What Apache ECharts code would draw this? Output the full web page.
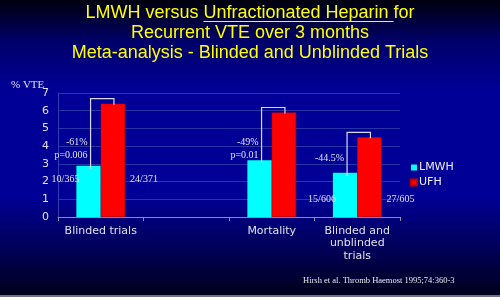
<!DOCTYPE html>
<html>
<head>
<meta charset="utf-8">
<script src="https://cdn.jsdelivr.net/npm/echarts@6/dist/echarts.min.js"></script>
<style>
  html, body { margin: 0; padding: 0; }
  #chart { width: 500px; height: 297px; }
</style>
</head>
<body>
<div id="chart"></div>
<script>
// categories (second slot is empty in the original slide)
const categories = ['Blinded trials', '', 'Mortality', 'Blinded and\nunblinded\ntrials'];
const lmwh = [2.9, null, 3.2, 2.5];
const ufh = [6.4, null, 5.9, 4.5];
const yTicks = [0, 1, 2, 3, 4, 5, 6, 7];

// annotations per category
const reductions = ['-61%', '', '-49%', '-44.5%'];
const pValues = ['p=0.006', '', 'p=0.01', ''];
const lmwhCounts = ['10/365', '', '', '15/606'];
const ufhCounts = ['24/371', '', '', '27/605'];
// where the text sits, in % VTE units
const reductionAt = [4.2, null, 4.2, 3.3];
const pValueAt = [3.5, null, 3.5, null];
const countAt = [2.1, null, null, 1.0];

const titleLines = ['LMWH versus Unfractionated Heparin for', 'Recurrent VTE over 3 months', 'Meta-analysis - Blinded and Unblinded Trials'];
const titleFont = '18px "Liberation Sans"';

// find where "Unfractionated Heparin " sits on the first title line
const ctx = document.createElement('canvas').getContext('2d');
ctx.font = titleFont;
const lineW = ctx.measureText(titleLines[0]).width;
const preW = ctx.measureText('LMWH versus ').width;
const ulW = ctx.measureText('Unfractionated Heparin ').width;
const ulX = 250 - lineW / 2 + preW;

const chart = echarts.init(document.getElementById('chart'));

const noteFont = { fontFamily: 'Liberation Serif', fontSize: 10, fill: '#e0e0e8' };

const renderNote = (params, api) => {
    const i = api.value(0);
    if (lmwh[i] == null) return null;
    const base = api.coord([i, 0]);
    const cw = api.size([1, 0])[0];
    const bw = cw * 0.57 / 2;
    const xc = base[0] - bw / 2 + 2;
    const xr = base[0] + bw / 2 + 1;
    const yc = api.coord([i, lmwh[i]])[1];
    const yr = api.coord([i, ufh[i]])[1];
    const top = yr - 5;
    const kids = [{
        type: 'polyline',
        shape: { points: [[xc, yc + 3], [xc, top], [xr, top], [xr, yr + 1]] },
        style: { stroke: '#d8d8e8', lineWidth: 1.2, fill: null }
    }];
    if (reductions[i]) {
        kids.push({ type: 'text', style: Object.assign({
            text: reductions[i], x: xc - 3, y: api.coord([i, reductionAt[i]])[1],
            align: 'right', verticalAlign: 'middle' }, noteFont) });
    }
    if (pValues[i]) {
        kids.push({ type: 'text', style: Object.assign({
            text: pValues[i], x: xc - 3, y: api.coord([i, pValueAt[i]])[1],
            align: 'right', verticalAlign: 'middle' }, noteFont) });
    }
    if (lmwhCounts[i]) {
        const cy = api.coord([i, countAt[i]])[1];
        kids.push({ type: 'text', style: Object.assign({
            text: lmwhCounts[i], x: base[0] - bw + 3, y: cy,
            align: 'right', verticalAlign: 'middle' }, noteFont) });
        kids.push({ type: 'text', style: Object.assign({
            text: ufhCounts[i], x: base[0] + bw + 5, y: cy,
            align: 'left', verticalAlign: 'middle' }, noteFont) });
    }
    return { type: 'group', children: kids };
};

chart.setOption({
    animation: false,
    backgroundColor: {
        type: 'linear', x: 0, y: 0, x2: 0, y2: 1,
        colorStops: [
            { offset: 0, color: '#00000e' },
            { offset: 0.14, color: '#00006a' },
            { offset: 0.3, color: '#000096' },
            { offset: 0.66, color: '#000096' },
            { offset: 0.86, color: '#000050' },
            { offset: 1, color: '#00001a' }
        ]
    },
    title: {
        text: titleLines.join('\n'),
        left: 'center',
        top: 3,
        padding: 0,
        textStyle: {
            color: '#ffff00', fontFamily: 'Liberation Sans', fontWeight: 'normal',
            fontSize: 18, lineHeight: 20
        }
    },
    graphic: [
        // underline under "Unfractionated Heparin"
        { type: 'line', shape: { x1: ulX, y1: 21.5, x2: ulX + ulW, y2: 21.5 },
          style: { stroke: '#ffff00', lineWidth: 1 } },
        // axis title
        { type: 'text', left: 11, top: 80,
          style: { text: '% VTE', fill: '#e0e0e8', font: '11px "Liberation Serif"' } },
        { type: 'text', left: 303, top: 276,
          style: { text: 'Hirsh et al. Thromb Haemost 1995;74:360-3', fill: '#e8e8f0',
                   font: '8.5px "Liberation Serif"' } },
        { type: 'rect', left: 0, top: 295, shape: { width: 500, height: 2 },
          style: { fill: '#707088' } }
    ],
    legend: {
        orient: 'vertical',
        left: 405,
        top: 157,
        icon: 'rect',
        itemWidth: 6,
        itemHeight: 6,
        itemGap: 4,
        data: ['LMWH', 'UFH'],
        textStyle: { color: '#eeeeee', fontFamily: 'DejaVu Sans', fontSize: 11, padding: [0, 0, 0, -3] }
    },
    grid: { left: 58, right: 100, top: 93, bottom: 80 },
    xAxis: {
        type: 'category',
        data: categories,
        axisLine: { lineStyle: { color: '#8a8ab0' } },
        axisTick: { show: true, length: 4, lineStyle: { color: '#8a8ab0' } },
        axisLabel: {
            color: '#e0e0e8', fontFamily: 'DejaVu Sans', fontSize: 11,
            lineHeight: 12.5, margin: 7.5, interval: 0
        }
    },
    yAxis: {
        type: 'value',
        min: yTicks[0],
        max: yTicks[yTicks.length - 1],
        interval: 1,
        axisLine: { show: true, lineStyle: { color: '#3040b0' } },
        axisLabel: { color: '#e0e0e8', fontFamily: 'DejaVu Sans', fontSize: 11, margin: 9 },
        splitLine: { lineStyle: { color: '#2535a8' } }
    },
    series: [
        {
            name: 'LMWH', type: 'bar', data: lmwh,
            barCategoryGap: '43%', barGap: '0%',
            itemStyle: { color: '#00ffff' }
        },
        {
            name: 'UFH', type: 'bar', data: ufh,
            itemStyle: { color: '#ff0000', borderColor: '#c00000', borderWidth: 0.5 }
        },
        {
            type: 'custom',
            renderItem: renderNote,
            data: categories.map((c, i) => [i, 0]),
            encode: { x: 0, y: 1 },
            silent: true,
            z: 5
        }
    ]
});
</script>
</body>
</html>
